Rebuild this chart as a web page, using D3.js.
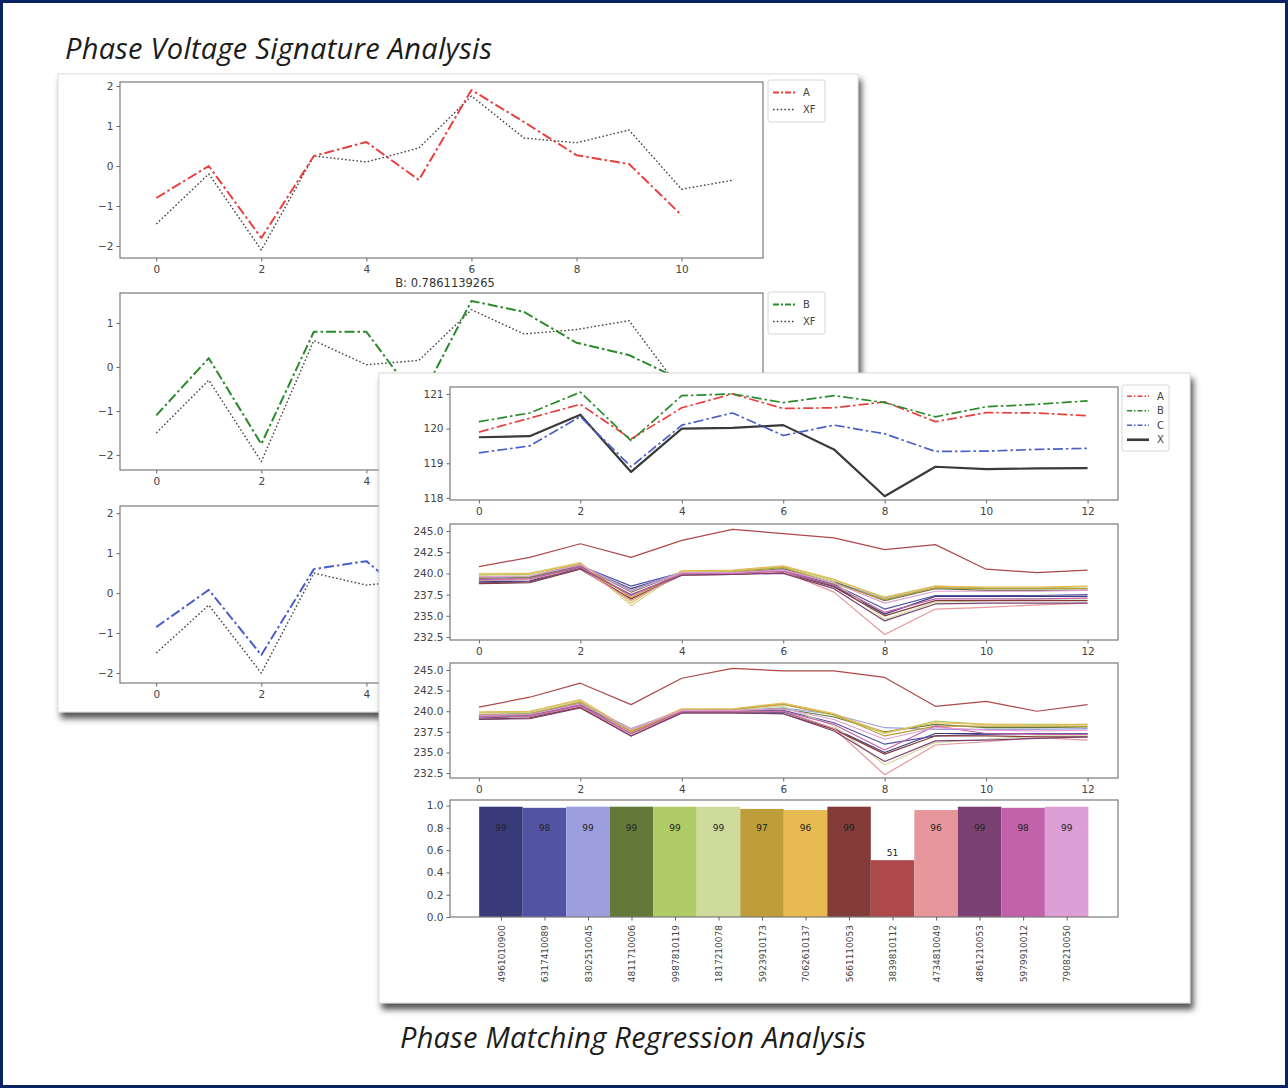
<!DOCTYPE html>
<html>
<head>
<meta charset="utf-8">
<script src="https://cdn.jsdelivr.net/npm/d3@7"></script>
<style>
  html, body { margin: 0; padding: 0; background: #fff; }
  svg { display: block; }
</style>
</head>
<body>
<script>
// ---------- data ----------
// Normalised phase signatures vs. transformer (XF) reference, per sample index
const phaseA = [-0.8, 0.0, -1.8, 0.25, 0.6, -0.35, 1.9, 1.1, 0.27, 0.05, -1.23];
const xfA    = [-1.45, -0.2, -2.1, 0.25, 0.1, 0.45, 1.75, 0.7, 0.58, 0.9, -0.58, -0.35];
const phaseB = [-1.1, 0.2, -1.75, 0.8, 0.8, -0.8, 1.5, 1.25, 0.55, 0.27, -0.3];
const xfB    = [-1.5, -0.3, -2.15, 0.6, 0.05, 0.15, 1.3, 0.75, 0.85, 1.05, -0.55, -0.3];
const phaseC = [-0.85, 0.08, -1.55, 0.6, 0.8, -0.3, 1.6, 1.2, 0.5, 0.2, -0.9];
const xfC    = [-1.5, -0.3, -2.0, 0.5, 0.2, 0.33, 1.4, 0.8, 0.9, 1.1, -0.6, -0.3];
const scoreTitleB = "B: 0.7861139265";

// Mean phase voltages (V) and transformer X
const meanA = [119.9, 120.3, 120.7, 119.7, 120.6, 121.0, 120.58, 120.6, 120.77, 120.2, 120.46, 120.45, 120.37];
const meanB = [120.2, 120.45, 121.05, 119.65, 120.95, 121.0, 120.75, 120.95, 120.75, 120.34, 120.63, 120.7, 120.8];
const meanC = [119.3, 119.5, 120.35, 118.9, 120.1, 120.45, 119.8, 120.1, 119.85, 119.34, 119.35, 119.4, 119.43];
const meanX = [119.75, 119.78, 120.4, 118.75, 120.0, 120.02, 120.1, 119.4, 118.05, 118.9, 118.83, 118.85, 118.86];

// Meter ids and their phase-match scores (%)
const meterIds = ["4961010900","6317410089","8302510045","4811710006","9987810119","1817210078","5923910173",
                  "7062610137","5661110053","3839810112","4734810049","4861210053","5979910012","7908210050"];
const matchScores = [99, 98, 99, 99, 99, 99, 97, 96, 99, 51, 96, 99, 98, 99];

// Meter voltages (V), one row per meter, upper and lower panels
const meterVoltsUpper = [
  [239.0, 239.1, 240.8, 238.2, 240.0, 240.0, 240.3, 238.5, 235.2, 237.3, 237.3, 237.3, 237.3],
  [239.2, 239.3, 240.9, 238.5, 240.1, 240.1, 240.4, 238.7, 235.8, 237.4, 237.4, 237.4, 237.5],
  [239.5, 239.6, 241.0, 238.0, 240.2, 240.2, 240.5, 239.0, 237.0, 238.3, 238.2, 238.2, 238.2],
  [239.4, 239.5, 240.9, 237.8, 240.1, 240.1, 240.6, 239.0, 236.8, 238.2, 238.0, 238.0, 238.0],
  [239.8, 239.9, 241.2, 236.8, 240.3, 240.3, 240.8, 239.2, 237.2, 238.5, 238.3, 238.3, 238.4],
  [240.0, 240.0, 241.3, 236.2, 240.2, 240.2, 240.7, 239.0, 234.6, 236.6, 236.8, 237.0, 237.0],
  [239.6, 239.7, 241.1, 237.2, 240.1, 240.2, 240.7, 238.8, 236.9, 238.3, 238.2, 238.2, 238.2],
  [239.9, 240.0, 241.2, 236.5, 240.3, 240.4, 240.9, 239.3, 237.1, 238.5, 238.4, 238.4, 238.5],
  [238.8, 238.9, 240.5, 237.0, 239.8, 239.9, 240.1, 238.4, 235.0, 236.8, 236.8, 236.8, 236.8],
  [240.8, 241.9, 243.5, 241.9, 243.9, 245.2, 244.7, 244.2, 242.8, 243.4, 240.5, 240.1, 240.4],
  [239.2, 239.3, 240.6, 236.8, 239.9, 240.0, 240.2, 237.8, 232.8, 235.8, 236.0, 236.3, 236.5],
  [238.9, 239.0, 240.6, 237.5, 239.8, 239.9, 240.0, 238.2, 234.4, 236.4, 236.5, 236.5, 236.5],
  [239.3, 239.4, 240.8, 237.4, 240.0, 240.0, 240.3, 238.6, 235.4, 237.0, 237.0, 237.0, 237.1],
  [239.6, 239.7, 241.0, 237.9, 240.1, 240.1, 240.4, 238.9, 236.5, 237.9, 237.9, 237.9, 238.0]
];
const meterVoltsLower = [
  [239.2, 239.4, 240.6, 237.3, 239.9, 239.9, 239.9, 237.9, 235.0, 237.3, 237.3, 237.3, 237.2],
  [239.4, 239.5, 240.8, 237.6, 240.0, 240.0, 240.1, 238.6, 236.0, 237.0, 237.2, 237.3, 237.3],
  [239.6, 239.7, 241.0, 237.9, 240.1, 240.1, 240.4, 239.6, 238.0, 237.8, 237.8, 237.8, 237.9],
  [239.5, 239.6, 240.9, 237.5, 240.0, 240.0, 240.3, 239.3, 237.5, 238.4, 238.0, 238.0, 238.1],
  [239.8, 239.9, 241.3, 237.6, 240.2, 240.2, 240.9, 239.5, 237.3, 238.8, 238.4, 238.4, 238.4],
  [239.9, 240.0, 241.2, 237.4, 240.1, 240.1, 240.6, 238.2, 233.5, 236.2, 236.6, 237.0, 237.0],
  [239.6, 239.7, 241.1, 237.5, 240.1, 240.2, 240.8, 239.6, 237.0, 238.2, 238.2, 238.2, 238.2],
  [239.9, 240.0, 241.4, 237.7, 240.3, 240.3, 241.0, 239.7, 237.4, 238.6, 238.4, 238.3, 238.4],
  [239.0, 239.2, 240.5, 237.0, 239.8, 239.8, 239.7, 237.8, 234.8, 237.0, 237.0, 236.9, 236.9],
  [240.5, 241.7, 243.4, 240.8, 244.0, 245.2, 244.9, 244.9, 244.1, 240.6, 241.2, 240.0, 240.8],
  [239.3, 239.4, 240.6, 237.2, 239.9, 239.9, 240.0, 237.9, 232.3, 235.9, 236.3, 236.8, 236.5],
  [239.0, 239.1, 240.4, 237.0, 239.8, 239.8, 239.7, 237.6, 233.9, 236.4, 236.5, 236.7, 236.9],
  [239.3, 239.4, 240.7, 237.3, 240.0, 240.0, 240.0, 238.4, 235.3, 238.2, 237.3, 237.2, 237.2],
  [239.5, 239.6, 240.9, 237.8, 240.1, 240.1, 240.3, 239.0, 236.6, 238.0, 237.7, 237.6, 237.7]
];

// ---------- styling ----------
const meterPalette = ["#393b79","#5254a3","#9c9ede","#637939","#b0cc66","#cedb9c","#bd9e39",
                      "#e7ba52","#843c39","#ad494a","#e7969c","#7b4173","#c262ab","#de9ed6"];
const RED = "#e8403f", GREEN = "#2b8a2b", BLUE = "#4a5fc8", DARK = "#3a3a3a";
const DASHDOT = "10,3,2.5,3", DOTTED = "1.6,2.2";
const tickFont = "DejaVu Sans, sans-serif";

const W = 1288, H = 1088;
const svg = d3.select("body").append("svg").attr("width", W).attr("height", H);
const defs = svg.append("defs");

const shadow = defs.append("filter").attr("id", "cardShadow")
  .attr("x", "-5%").attr("y", "-5%").attr("width", "112%").attr("height", "115%");
shadow.append("feDropShadow").attr("dx", 3).attr("dy", 6).attr("stdDeviation", 3)
  .attr("flood-color", "#404040").attr("flood-opacity", 0.9);

// page border
svg.append("rect").attr("x", 1.5).attr("y", 1.5).attr("width", W - 3).attr("height", H - 3)
  .attr("fill", "#fff").attr("stroke", "#0b2461").attr("stroke-width", 3);

svg.append("text").attr("x", 65).attr("y", 59)
  .attr("font-family", "Open Sans, sans-serif").attr("font-style", "italic")
  .attr("font-size", 29).attr("fill", "#1c1c1c")
  .attr("textLength", 427).attr("lengthAdjust", "spacing")
  .text("Phase Voltage Signature Analysis");

let clipId = 0;
function styleAxis(sel) {
  sel.select(".domain").remove();
  sel.selectAll(".tick line").attr("stroke", "#555").attr("stroke-width", 0.9);
  sel.selectAll(".tick text").attr("fill", "#444").attr("font-family", tickFont).attr("font-size", 10.5);
}

// One matplotlib-like axes box; returns scales and a clipped group for marks
function axesBox(g, c) {
  const x = d3.scaleLinear().domain(c.xd).range([c.l, c.r]);
  const y = d3.scaleLinear().domain(c.yd).range([c.b, c.t]);
  if (c.xt) {
    g.append("g").attr("transform", `translate(0,${c.b})`)
      .call(d3.axisBottom(x).tickValues(c.xt).tickSize(3.5).tickPadding(4).tickFormat(c.xf || d3.format("d")))
      .call(styleAxis);
  }
  g.append("g").attr("transform", `translate(${c.l},0)`)
    .call(d3.axisLeft(y).tickValues(c.yt).tickSize(3.5).tickPadding(3).tickFormat(c.yf || d3.format("d")))
    .call(styleAxis);
  const id = "clip" + (clipId++);
  defs.append("clipPath").attr("id", id).append("rect")
    .attr("x", c.l).attr("y", c.t).attr("width", c.r - c.l).attr("height", c.b - c.t);
  const plot = g.append("g").attr("clip-path", `url(#${id})`);
  const frame = () => g.append("rect").attr("x", c.l).attr("y", c.t)
    .attr("width", c.r - c.l).attr("height", c.b - c.t)
    .attr("fill", "none").attr("stroke", "#7a7a7a").attr("stroke-width", 1.2);
  return { x, y, plot, frame };
}

function seriesLine(ax, values, color, width, dash) {
  const line = d3.line().x((d, i) => ax.x(i)).y(d => ax.y(d));
  ax.plot.append("path").datum(values).attr("d", line)
    .attr("fill", "none").attr("stroke", color).attr("stroke-width", width)
    .attr("stroke-dasharray", dash || null).attr("stroke-linejoin", "round");
}

function legend(g, x, y, w, rowH, items) {
  g.append("rect").attr("x", x).attr("y", y).attr("width", w).attr("height", rowH * items.length + 8)
    .attr("rx", 2).attr("fill", "#fff").attr("stroke", "#d6d6d6");
  items.forEach((it, i) => {
    const cy = y + 4 + rowH * (i + 0.5);
    g.append("line").attr("x1", x + 5).attr("x2", x + 27).attr("y1", cy).attr("y2", cy)
      .attr("stroke", it.color).attr("stroke-width", it.width).attr("stroke-dasharray", it.dash || null);
    g.append("text").attr("x", x + 35).attr("y", cy + 3.5).attr("font-family", tickFont)
      .attr("font-size", 10).attr("fill", "#444").text(it.label);
  });
}

// ---------- left card: signature comparison per phase ----------
const left = svg.append("g");
left.append("rect").attr("x", 58).attr("y", 74).attr("width", 800).attr("height", 638)
  .attr("fill", "#fff").attr("stroke", "#dcdcdc").attr("filter", "url(#cardShadow)");

const sigX = [-0.69, 11.55];
const sigXt = [0, 2, 4, 6, 8, 10];

const axA = axesBox(left, { l: 120, r: 763, t: 82, b: 258, xd: sigX, yd: [-2.3, 2.1], xt: sigXt, yt: [-2, -1, 0, 1, 2] });
seriesLine(axA, xfA, "#444", 1.4, DOTTED);
seriesLine(axA, phaseA, RED, 2, DASHDOT);
axA.frame();
legend(left, 768, 80, 57, 17, [
  { label: "A", color: RED, width: 2, dash: "6,2,2,2" },
  { label: "XF", color: "#444", width: 1.4, dash: DOTTED }
]);

left.append("text").attr("x", 445).attr("y", 287).attr("text-anchor", "middle")
  .attr("font-family", tickFont).attr("font-size", 11.5).attr("fill", "#333").text(scoreTitleB);

const axB = axesBox(left, { l: 120, r: 763, t: 293, b: 470, xd: sigX, yd: [-2.34, 1.68], xt: sigXt, yt: [-2, -1, 0, 1] });
seriesLine(axB, xfB, "#444", 1.4, DOTTED);
seriesLine(axB, phaseB, GREEN, 2, DASHDOT);
axB.frame();
legend(left, 768, 292, 57, 17, [
  { label: "B", color: GREEN, width: 2, dash: "6,2,2,2" },
  { label: "XF", color: "#444", width: 1.4, dash: DOTTED }
]);

const axC = axesBox(left, { l: 120, r: 763, t: 506, b: 683, xd: sigX, yd: [-2.25, 2.18], xt: sigXt, yt: [-2, -1, 0, 1, 2] });
seriesLine(axC, xfC, "#444", 1.4, DOTTED);
seriesLine(axC, phaseC, BLUE, 2, DASHDOT);
axC.frame();

// ---------- right card: regression matching ----------
const right = svg.append("g");
right.append("rect").attr("x", 379).attr("y", 373).attr("width", 811).attr("height", 630)
  .attr("fill", "#fff").attr("stroke", "#d8d8d8").attr("filter", "url(#cardShadow)");

const tX = [-0.57, 12.6];
const tXt = [0, 2, 4, 6, 8, 10, 12];

const axTop = axesBox(right, { l: 450, r: 1118, t: 387, b: 500, xd: tX, yd: [117.94, 121.2], xt: tXt, yt: [118, 119, 120, 121] });
seriesLine(axTop, meanX, DARK, 2.2);
seriesLine(axTop, meanC, BLUE, 1.7, DASHDOT);
seriesLine(axTop, meanA, RED, 1.7, DASHDOT);
seriesLine(axTop, meanB, GREEN, 1.7, DASHDOT);
axTop.frame();
legend(right, 1122, 385, 47, 14.5, [
  { label: "A", color: RED, width: 1.6, dash: "5,2,1.5,2" },
  { label: "B", color: GREEN, width: 1.6, dash: "5,2,1.5,2" },
  { label: "C", color: BLUE, width: 1.6, dash: "5,2,1.5,2" },
  { label: "X", color: DARK, width: 2.6 }
]);

const voltTicks = [232.5, 235.0, 237.5, 240.0, 242.5, 245.0];
const axUp = axesBox(right, { l: 450, r: 1118, t: 524, b: 640, xd: tX, yd: [232.15, 245.83], xt: tXt, yt: voltTicks, yf: d3.format(".1f") });
meterVoltsUpper.forEach((row, k) => seriesLine(axUp, row, meterPalette[k], 1.2));
axUp.frame();

const axLow = axesBox(right, { l: 450, r: 1118, t: 663, b: 778, xd: tX, yd: [231.9, 245.85], xt: tXt, yt: voltTicks, yf: d3.format(".1f") });
meterVoltsLower.forEach((row, k) => seriesLine(axLow, row, meterPalette[k], 1.2));
axLow.frame();

// Match-score bars, one per meter
const barAx = axesBox(right, { l: 450, r: 1118, t: 800, b: 917, xd: [-1.17, 14.18], yd: [0, 1.05],
  yt: [0, 0.2, 0.4, 0.6, 0.8, 1.0], yf: d3.format(".1f") });
barAx.plot.selectAll("rect.bar").data(matchScores).join("rect").attr("class", "bar")
  .attr("x", (d, i) => barAx.x(i - 0.5)).attr("width", barAx.x(1) - barAx.x(0))
  .attr("y", d => barAx.y(d / 100)).attr("height", d => barAx.y(0) - barAx.y(d / 100))
  .attr("fill", (d, i) => meterPalette[i]);
barAx.plot.selectAll("text.val").data(matchScores).join("text").attr("class", "val")
  .attr("x", (d, i) => barAx.x(i)).attr("y", d => d / 100 > 0.7 ? barAx.y(0.8) + 3 : barAx.y(d / 100) - 4)
  .attr("text-anchor", "middle").attr("font-family", tickFont).attr("font-size", 9)
  .attr("fill", "#222").text(d => d);
barAx.frame();

const idAxis = right.append("g").attr("transform", `translate(0,917)`)
  .call(d3.axisBottom(barAx.x).tickValues(d3.range(meterIds.length)).tickSize(3.5)
    .tickFormat(i => meterIds[i]))
  .call(styleAxis);
idAxis.selectAll(".tick text").attr("transform", "rotate(-90)").attr("text-anchor", "end")
  .attr("x", -8).attr("y", 0).attr("dy", "0.35em").attr("font-size", 9);

svg.append("text").attr("x", 400).attr("y", 1048)
  .attr("font-family", "Open Sans, sans-serif").attr("font-style", "italic")
  .attr("font-size", 29).attr("fill", "#1c1c1c")
  .attr("textLength", 466).attr("lengthAdjust", "spacing")
  .text("Phase Matching Regression Analysis");
</script>
</body>
</html>
